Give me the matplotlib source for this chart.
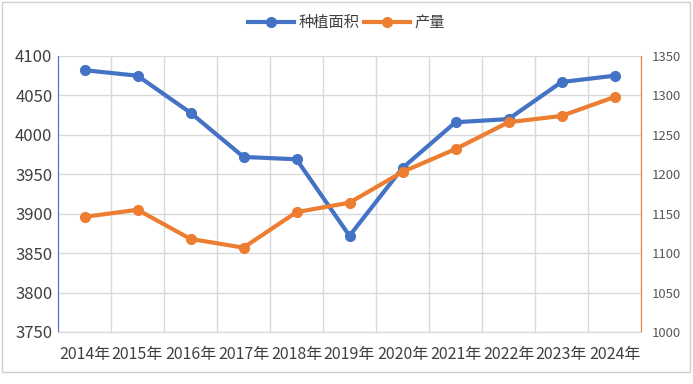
import numpy as np
import matplotlib.pyplot as plt
from matplotlib.patches import Rectangle

plt.rcParams['font.family'] = ['Noto Sans CJK SC', 'DejaVu Sans']

years = ["2014年", "2015年", "2016年", "2017年", "2018年", "2019年",
         "2020年", "2021年", "2022年", "2023年", "2024年"]
area = [4082, 4075, 4028, 3972, 3969, 3872, 3958, 4016, 4020, 4067, 4075]
output = [1146, 1155, 1118, 1107, 1152, 1164, 1203, 1232, 1266, 1274, 1298]

blue = "#4472C4"
orange = "#ED7D31"
txt = "#404040"

fig = plt.figure(figsize=(6.93, 3.84), dpi=100)
ax = fig.add_axes([58 / 693, 1 - 332 / 384, 583 / 693, 276 / 384])
ax2 = ax.twinx()

x = np.arange(len(years))
l1, = ax.plot(x, area, color=blue, lw=3, marker='o', ms=7, label="种植面积", zorder=3)
l2, = ax2.plot(x, output, color=orange, lw=3, marker='o', ms=7, label="产量", zorder=3)

ax.set_xlim(-0.5, len(years) - 0.5)
ax.set_ylim(3750, 4100)
ax.set_yticks(np.arange(3750, 4101, 50))
ax2.set_ylim(1000, 1350)
ax2.set_yticks(np.arange(1000, 1351, 50))

ax.set_xticks(x)
ax.set_xticklabels(years)
ax.set_xticks(np.arange(-0.5, len(years), 1), minor=True)
ax.grid(True, which='minor', axis='x', color='#d9d9d9', lw=1)
ax.grid(True, which='major', axis='y', color='#d9d9d9', lw=1)
ax.set_axisbelow(True)

ax.tick_params(axis='x', which='both', length=0, labelsize=11.5, colors=txt, pad=10)
ax.tick_params(axis='y', length=0, labelsize=12, colors=txt, pad=4)
ax2.tick_params(axis='y', length=0, labelsize=9.5, colors='#595959', pad=8)

for a in (ax, ax2):
    a.spines['top'].set_visible(False)
    a.spines['bottom'].set_color('#d9d9d9')
    a.spines['left'].set_visible(False)
    a.spines['right'].set_visible(False)
ax.spines['left'].set_visible(True)
ax.spines['left'].set_color(blue)
ax2.spines['right'].set_visible(True)
ax2.spines['right'].set_color(orange)

fig.legend(handles=[l1, l2], loc='center', bbox_to_anchor=(0.5, 1 - 23 / 384),
           ncol=2, frameon=False, fontsize=11, handlelength=3,
           columnspacing=0.3, handletextpad=0.3, labelcolor=txt)

fig.patches.append(Rectangle((1.5 / 693, 12 / 384), 688 / 693, 370.5 / 384,
                             transform=fig.transFigure, fill=False,
                             edgecolor='#d0d0d0', lw=1))

fig.savefig("out.png", dpi=100)
